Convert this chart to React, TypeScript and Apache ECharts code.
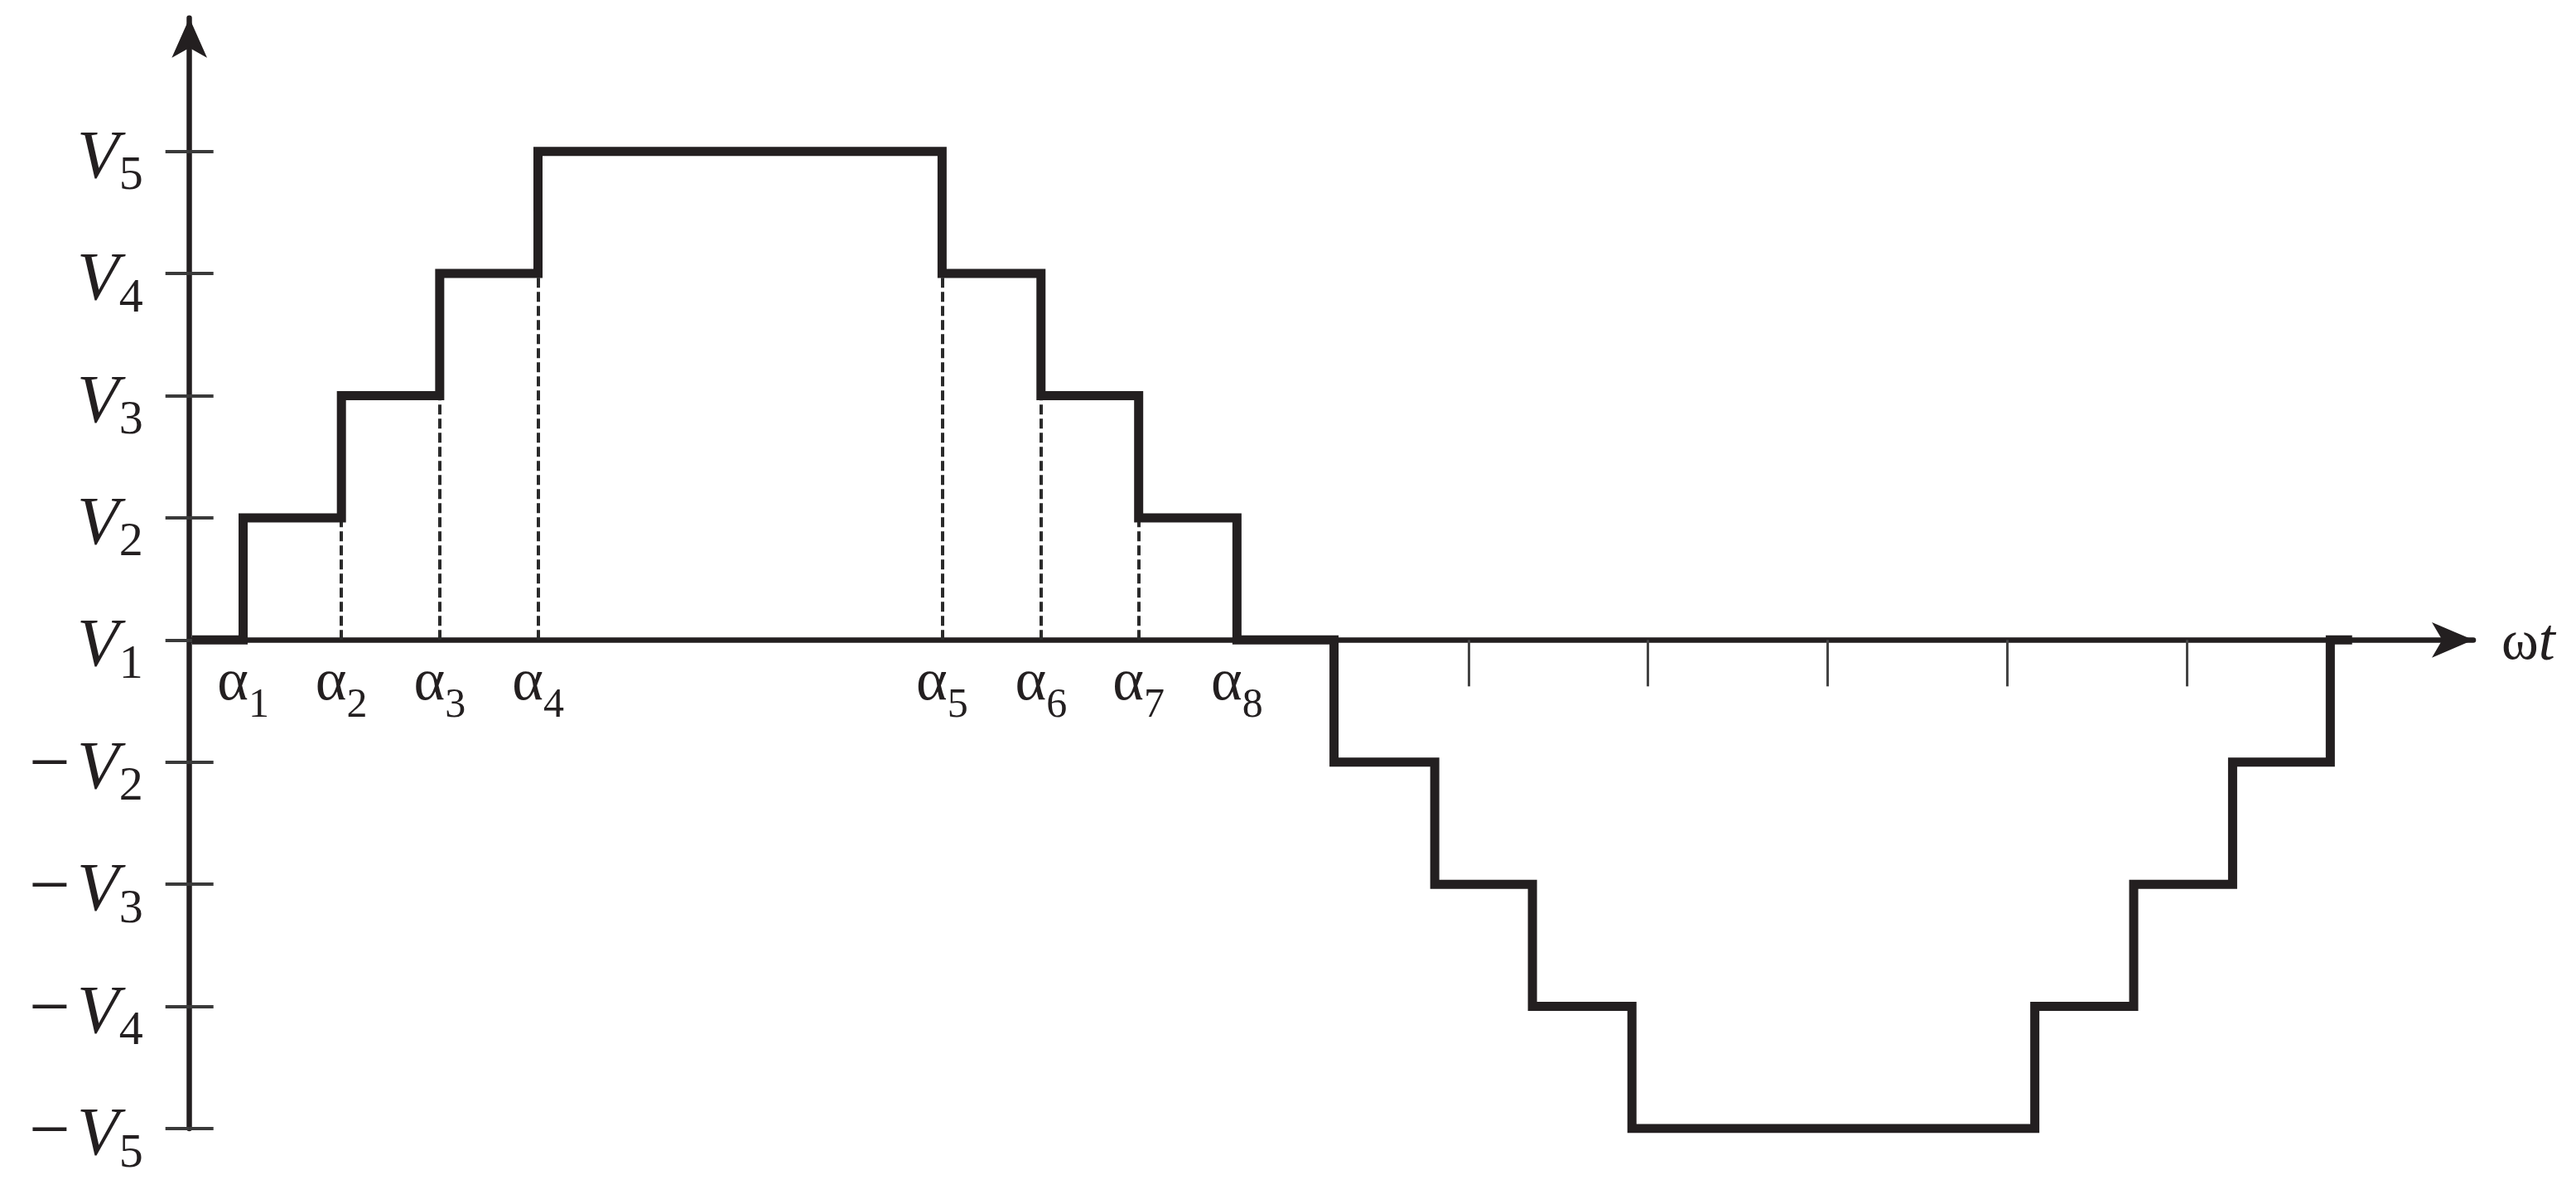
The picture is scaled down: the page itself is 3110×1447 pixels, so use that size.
import React, { useEffect, useRef } from 'react';
import * as echarts from 'echarts';

// Switching angles (degrees) of the staircase waveform and the level held after each switch
const SWITCH_ANGLES = [8.4, 24.6, 40.8, 57.0, 123.6, 139.9, 156.0, 172.2, 188.2, 204.8, 220.9, 237.3, 303.7, 320.0, 336.3, 352.4];
const SWITCH_LEVELS = [1, 2, 3, 4, 3, 2, 1, 0, -1, -2, -3, -4, -3, -2, -1, 0];
const WAVE_START = 0;
const WAVE_END = 356;

// Labelled switching angles α1..α8
const ALPHA_ANGLES = [8.4, 24.6, 40.8, 57.0, 123.6, 139.9, 156.0, 172.2];
const ALPHA_SUBS = ['1', '2', '3', '4', '5', '6', '7', '8'];

// Dashed guide lines: angle and the level they reach
const DASH_ANGLES = [24.6, 40.8, 57.0, 123.6, 139.9, 156.0];
const DASH_LEVELS = [1, 2, 3, 3, 2, 1];

// Y axis ticks and labels
const Y_TICKS = [-4, -3, -2, -1, 0, 1, 2, 3, 4];
const Y_TICK_LABELS = ['−V5', '−V4', '−V3', '−V2', 'V1', 'V2', 'V3', 'V4', 'V5'];

// Unlabelled ticks on the ωt axis
const X_TICKS = [210.4, 239.9, 269.5, 299.2, 328.8];

const X_MIN = -0.45;
const X_MAX = 375.97;
const Y_MIN = -4;
const Y_MAX = 5.092;

const INK = '#231f20';
const SERIF = "'Liberation Serif', 'Times New Roman', serif";

const GRID = { left: 228.7, right: 124, top: 21.7, bottom: 85 };
const HEIGHT = 1447;

export default function App() {
  const ref = useRef<HTMLDivElement>(null);

  useEffect(() => {
    const el = ref.current;
    if (!el) return;
    const chart = echarts.init(el, null, { renderer: 'svg' });

    const waveData: number[][] = [[WAVE_START, 0]];
    SWITCH_ANGLES.forEach((a, i) => waveData.push([a, SWITCH_LEVELS[i]]));
    waveData.push([WAVE_END, 0]);

    // move the ωt axis up to the zero level of the y scale
    const gridHeight = HEIGHT - GRID.top - GRID.bottom;
    const xAxisOffset = -((0 - Y_MIN) / (Y_MAX - Y_MIN)) * gridHeight;

    const nearest = (arr: number[], v: number) => {
      let idx = 0;
      let best = Infinity;
      arr.forEach((t, i) => {
        const d = Math.abs(t - v);
        if (d < best) { best = d; idx = i; }
      });
      return idx;
    };

    const yFormatter = (v: number) => {
      const s = Y_TICK_LABELS[nearest(Y_TICKS, v)];
      const neg = s.startsWith('−');
      const digit = s.slice(-1);
      return (neg ? '{m|−}' : '') + '{v|V}{s|' + digit + '}';
    };

    const xFormatter = (v: number) => '{a|α}{s|' + ALPHA_SUBS[nearest(ALPHA_ANGLES, v)] + '}';

    const yRich = {
      m: { fontFamily: SERIF, fontSize: 88, color: INK, padding: [0, 8, 0, 0] },
      v: { fontFamily: SERIF, fontStyle: 'italic', fontSize: 83, color: INK, padding: [6, 0, 0, 0] },
      s: { fontFamily: SERIF, fontSize: 58, color: INK, padding: [52, 0, 0, 0] },
    };

    const xRich = {
      a: { fontFamily: SERIF, fontSize: 72, color: INK },
      s: { fontFamily: SERIF, fontSize: 50, color: INK, padding: [56, 0, 0, 0] },
    };

    const yBase = {
      type: 'value',
      position: 'left',
      min: Y_MIN,
      max: Y_MAX,
      splitLine: { show: false },
    };

    chart.setOption({
      animation: false,
      backgroundColor: '#ffffff',
      grid: { ...GRID, containLabel: false, outerBoundsMode: 'none' },
      xAxis: {
        type: 'value',
        position: 'bottom',
        offset: xAxisOffset,
        min: X_MIN,
        max: X_MAX,
        name: '{w|ω}{t|t}',
        nameLocation: 'end',
        nameGap: 34,
        nameTextStyle: {
          color: INK,
          align: 'left',
          verticalAlign: 'middle',
          rich: {
            w: { fontFamily: SERIF, fontSize: 68, color: INK },
            t: { fontFamily: SERIF, fontStyle: 'italic', fontSize: 72, color: INK },
          },
        },
        axisLine: {
          show: true,
          onZero: false,
          symbol: ['none', 'arrow'],
          symbolSize: [32, 50],
          lineStyle: { color: INK, width: 6.5 },
        },
        axisTick: {
          show: true,
          customValues: X_TICKS,
          length: 56,
          inside: false,
          lineStyle: { color: '#444444', width: 3 },
        },
        axisLabel: {
          show: true,
          customValues: ALPHA_ANGLES,
          margin: 48,
          align: 'center',
          verticalAlign: 'middle',
          formatter: xFormatter,
          rich: xRich,
        },
        splitLine: { show: false },
      },
      yAxis: [
        {
          ...yBase,
          axisLine: {
            show: true,
            onZero: false,
            symbol: ['none', 'arrow'],
            symbolSize: [32, 48],
            lineStyle: { color: INK, width: 6.5 },
          },
          axisTick: {
            show: true,
            customValues: Y_TICKS,
            length: 29,
            inside: false,
            lineStyle: { color: '#3a3a3a', width: 4 },
          },
          axisLabel: {
            show: true,
            customValues: Y_TICKS,
            margin: 56,
            align: 'right',
            verticalAlign: 'middle',
            formatter: yFormatter,
            rich: yRich,
          },
        },
        {
          ...yBase,
          axisLine: { show: false, onZero: false },
          axisTick: {
            show: true,
            customValues: Y_TICKS,
            length: 29,
            inside: true,
            lineStyle: { color: '#3a3a3a', width: 4 },
          },
          axisLabel: { show: false },
        },
      ],
      series: [
        {
          type: 'lines',
          coordinateSystem: 'cartesian2d',
          xAxisIndex: 0,
          yAxisIndex: 0,
          silent: true,
          z: 1,
          lineStyle: { color: '#2a2a2a', width: 4, type: [12, 5], opacity: 1, curveness: 0 },
          data: DASH_ANGLES.map((a, i) => ({ coords: [[a, 0], [a, DASH_LEVELS[i]]] })),
        },
        {
          type: 'line',
          xAxisIndex: 0,
          yAxisIndex: 0,
          step: 'end',
          showSymbol: false,
          silent: true,
          z: 3,
          lineStyle: { color: INK, width: 11, join: 'miter', cap: 'butt' },
          data: waveData,
        },
      ],
    });

    return () => chart.dispose();
  }, []);

  return (
    <div
      ref={ref}
      style={{ position: 'fixed', left: 0, top: 0, width: 3110, height: 1447, background: '#ffffff' }}
    />
  );
}
